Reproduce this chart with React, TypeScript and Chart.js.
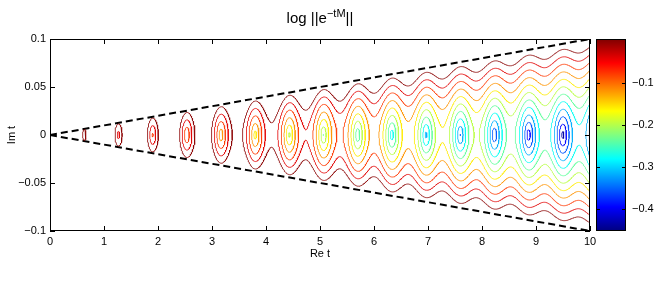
import React, { useEffect, useRef } from "react";
import { Chart, registerables } from "chart.js";
Chart.register(...registerables);

// ---- data ----
const xTicks = [0, 1, 2, 3, 4, 5, 6, 7, 8, 9, 10];
const yTicks = [-0.1, -0.05, 0, 0.05, 0.1];
const yTickLabels = ["\u22120.1", "\u22120.05", "0", "0.05", "0.1"];
const cbTicks = [-0.4, -0.3, -0.2, -0.1];
const cbTickLabels = ["\u22120.4", "\u22120.3", "\u22120.2", "\u22120.1"];
const cbRange = [-0.451, 0.003];
const levels = [-0.002, -0.041, -0.08, -0.12, -0.159, -0.198, -0.237, -0.276, -0.316, -0.355, -0.394, -0.433];
const coneX = [0, 10];
const coneUpper = [0, 0.1];
const coneLower = [0, -0.1];
// parameters of the plotted function log||e^{-tM}||, M with eigenvalues mu +/- i*omega
const MU = [0.0475];
const OMEGA = [4.963];
const ASYM = [1.2];
const gridX = [0, 10, 801];
const gridY = [-0.1, 0.1, 321];

const FONT = "'Liberation Sans', Arial, Helvetica, sans-serif";

function field(x: number, y: number): number {
  const w = OMEGA[0], a = ASYM[0];
  const cx = Math.cos(w * x), sx = Math.sin(w * x), shy = Math.sinh(w * y);
  const c2 = cx * cx + shy * shy;
  const s2 = sx * sx + shy * shy;
  const F2 = 2 * c2 + s2 * (a * a + 1 / (a * a));
  const sig2 = (F2 + Math.sqrt(Math.max(F2 * F2 - 4, 0))) / 2;
  return -MU[0] * x + 0.5 * Math.log(sig2);
}

function jet(t: number): string {
  t = Math.min(1, Math.max(0, t));
  const cl = (v: number) => Math.min(1, Math.max(0, v));
  const r = cl(1.5 - Math.abs(4 * t - 3));
  const g = cl(1.5 - Math.abs(4 * t - 2));
  const b = cl(1.5 - Math.abs(4 * t - 1));
  return `rgb(${Math.round(r * 255)},${Math.round(g * 255)},${Math.round(b * 255)})`;
}

type Pt = { x: number; y: number | null };

function contourPoints(L: number, F: Float64Array, nx: number, ny: number, xs: number[], ys: number[]): Pt[] {
  const pts = new Map<number, [number, number]>();
  const segA: number[] = [];
  const segB: number[] = [];
  const adj = new Map<number, number[]>();
  const edgePoint = (key: number): void => {
    if (pts.has(key)) return;
    const idx = key >> 1;
    const i = idx % nx, j = Math.floor(idx / nx);
    if ((key & 1) === 0) {
      const va = F[j * nx + i], vb = F[j * nx + i + 1];
      const t = (L - va) / (vb - va);
      pts.set(key, [xs[i] + t * (xs[i + 1] - xs[i]), ys[j]]);
    } else {
      const va = F[j * nx + i], vb = F[(j + 1) * nx + i];
      const t = (L - va) / (vb - va);
      pts.set(key, [xs[i], ys[j] + t * (ys[j + 1] - ys[j])]);
    }
  };
  const add = (k1: number, k2: number) => {
    edgePoint(k1); edgePoint(k2);
    const id = segA.length;
    segA.push(k1); segB.push(k2);
    if (!adj.has(k1)) adj.set(k1, []);
    if (!adj.has(k2)) adj.set(k2, []);
    adj.get(k1)!.push(id); adj.get(k2)!.push(id);
  };
  for (let j = 0; j < ny - 1; j++) {
    for (let i = 0; i < nx - 1; i++) {
      const v0 = F[j * nx + i], v1 = F[j * nx + i + 1], v2 = F[(j + 1) * nx + i + 1], v3 = F[(j + 1) * nx + i];
      if (Number.isNaN(v0) || Number.isNaN(v1) || Number.isNaN(v2) || Number.isNaN(v3)) continue;
      const code = (v0 > L ? 1 : 0) | (v1 > L ? 2 : 0) | (v2 > L ? 4 : 0) | (v3 > L ? 8 : 0);
      if (code === 0 || code === 15) continue;
      const e0 = (j * nx + i) * 2;
      const e1 = (j * nx + i + 1) * 2 + 1;
      const e2 = ((j + 1) * nx + i) * 2;
      const e3 = (j * nx + i) * 2 + 1;
      const center = (v0 + v1 + v2 + v3) / 4 > L;
      switch (code) {
        case 1: case 14: add(e3, e0); break;
        case 2: case 13: add(e0, e1); break;
        case 3: case 12: add(e3, e1); break;
        case 4: case 11: add(e1, e2); break;
        case 6: case 9: add(e0, e2); break;
        case 7: case 8: add(e3, e2); break;
        case 5:
          if (center) { add(e0, e1); add(e2, e3); } else { add(e3, e0); add(e1, e2); }
          break;
        case 10:
          if (center) { add(e3, e0); add(e1, e2); } else { add(e0, e1); add(e2, e3); }
          break;
      }
    }
  }
  const used = new Uint8Array(segA.length);
  const out: Pt[] = [];
  const walk = (startKey: number, seg: number): number[] => {
    const res: number[] = [];
    let cur = startKey;
    let s = seg;
    while (true) {
      const list = adj.get(cur) || [];
      let next = -1;
      for (const c of list) if (c !== s && !used[c]) { next = c; break; }
      if (next < 0) break;
      used[next] = 1;
      const other = segA[next] === cur ? segB[next] : segA[next];
      res.push(other);
      cur = other; s = next;
    }
    return res;
  };
  for (let s = 0; s < segA.length; s++) {
    if (used[s]) continue;
    used[s] = 1;
    const fwd = walk(segB[s], s);
    const bwd = walk(segA[s], s);
    const keys = bwd.reverse().concat([segA[s], segB[s]], fwd);
    for (const k of keys) {
      const p = pts.get(k)!;
      out.push({ x: p[0], y: p[1] });
    }
    out.push({ x: pts.get(keys[keys.length - 1])![0], y: null });
  }
  return out;
}

function buildDatasets() {
  const nx = gridX[2], ny = gridY[2];
  const xs: number[] = [], ys: number[] = [];
  for (let i = 0; i < nx; i++) xs.push(gridX[0] + (i * (gridX[1] - gridX[0])) / (nx - 1));
  for (let j = 0; j < ny; j++) ys.push(gridY[0] + (j * (gridY[1] - gridY[0])) / (ny - 1));
  const slope = coneUpper[1] / coneX[1];
  const F = new Float64Array(nx * ny);
  for (let j = 0; j < ny; j++) {
    for (let i = 0; i < nx; i++) {
      const x = xs[i], y = ys[j];
      F[j * nx + i] = Math.abs(y) > slope * x + 1e-12 ? NaN : field(x, y);
    }
  }
  const ds: any[] = levels.map((L) => ({
    data: contourPoints(L, F, nx, ny, xs, ys),
    borderColor: jet((L - cbRange[0]) / (cbRange[1] - cbRange[0])),
    borderWidth: 0.8,
    showLine: true,
    pointRadius: 0,
    spanGaps: false,
    fill: false,
  }));
  ds.push({
    data: coneX.map((x, i) => ({ x, y: coneUpper[i] })),
    borderColor: "#000", borderWidth: 2, borderDash: [7, 4], showLine: true, pointRadius: 0, fill: false,
  });
  ds.push({
    data: coneX.map((x, i) => ({ x, y: coneLower[i] })),
    borderColor: "#000", borderWidth: 2, borderDash: [7, 4], showLine: true, pointRadius: 0, fill: false,
  });
  return ds;
}

const decorPlugin = {
  id: "decor",
  afterDraw(chart: any) {
    const ctx = chart.ctx as CanvasRenderingContext2D;
    const { left, right, top, bottom } = chart.chartArea;
    const xs = chart.scales.x, ys = chart.scales.y, cb = chart.scales.cb;
    ctx.save();
    ctx.strokeStyle = "#000";
    ctx.lineWidth = 1;
    ctx.strokeRect(Math.round(left) + 0.5, Math.round(top) + 0.5, Math.round(right - left) - 1, Math.round(bottom - top) - 1);
    ctx.beginPath();
    for (const v of xTicks) {
      const px = Math.round(xs.getPixelForValue(v)) + 0.5;
      ctx.moveTo(px, bottom); ctx.lineTo(px, bottom - 5);
      ctx.moveTo(px, top); ctx.lineTo(px, top + 5);
    }
    for (const v of yTicks) {
      const py = Math.round(ys.getPixelForValue(v)) + 0.5;
      ctx.moveTo(left, py); ctx.lineTo(left + 5, py);
      ctx.moveTo(right, py); ctx.lineTo(right - 5, py);
    }
    ctx.stroke();
    // colorbar
    const cbL = 596, cbR = 626;
    const cTop = cb.getPixelForValue(cbRange[1]);
    const cBot = cb.getPixelForValue(cbRange[0]);
    const grad = ctx.createLinearGradient(0, cBot, 0, cTop);
    for (let k = 0; k <= 32; k++) grad.addColorStop(k / 32, jet(k / 32));
    ctx.fillStyle = grad;
    ctx.fillRect(cbL, cTop, cbR - cbL, cBot - cTop);
    ctx.strokeRect(cbL + 0.5, Math.round(cTop) + 0.5, cbR - cbL - 1, Math.round(cBot - cTop) - 1);
    ctx.beginPath();
    for (const v of cbTicks) {
      const py = Math.round(cb.getPixelForValue(v)) + 0.5;
      ctx.moveTo(cbR, py); ctx.lineTo(cbR - 4, py);
      ctx.moveTo(cbL, py); ctx.lineTo(cbL + 4, py);
    }
    ctx.stroke();
    // title
    ctx.fillStyle = "#000";
    ctx.textBaseline = "alphabetic";
    const big = `15px ${FONT}`, small = `11px ${FONT}`;
    const p1 = "log ||e", p2 = "\u2212tM", p3 = "||";
    ctx.font = big; const w1 = ctx.measureText(p1).width; const w3 = ctx.measureText(p3).width;
    ctx.font = small; const w2 = ctx.measureText(p2).width;
    const tw = w1 + w2 + w3;
    let tx = (left + right) / 2 - tw / 2;
    const ty = 23;
    ctx.textAlign = "left";
    ctx.font = big; ctx.fillText(p1, tx, ty); tx += w1;
    ctx.font = small; ctx.fillText(p2, tx, ty - 6); tx += w2;
    ctx.font = big; ctx.fillText(p3, tx, ty);
    ctx.font = `11px ${FONT}`;
    ctx.textAlign = "center";
    ctx.textBaseline = "middle";
    ctx.fillText("Re t", (left + right) / 2, 254);
    ctx.translate(12, (top + bottom) / 2);
    ctx.rotate(-Math.PI / 2);
    ctx.fillText("Im t", 0, 0);
    ctx.restore();
  },
};

export default function App() {
  const ref = useRef<HTMLCanvasElement>(null);
  useEffect(() => {
    if (!ref.current) return;
    const tickFont = { family: FONT, size: 11 };
    const chart = new Chart(ref.current, {
      type: "scatter",
      data: { datasets: buildDatasets() },
      plugins: [decorPlugin],
      options: {
        animation: false,
        responsive: false,
        maintainAspectRatio: false,
        events: [],
        layout: { padding: { left: 0, right: 0, top: 39, bottom: 0 } },
        plugins: { legend: { display: false }, tooltip: { enabled: false }, title: { display: false } },
        elements: { point: { radius: 0 }, line: { tension: 0 } },
        scales: {
          x: {
            type: "linear", position: "bottom", min: 0, max: 10,
            afterFit: (s: any) => { s.height = 51; },
            afterBuildTicks: (s: any) => { s.ticks = xTicks.map((v) => ({ value: v })); },
            grid: { display: false, drawTicks: false },
            border: { display: false },
            ticks: { padding: 4, color: "#000", font: tickFont, maxRotation: 0, autoSkip: false, callback: (v: any) => String(v) },
          },
          y: {
            type: "linear", position: "left", min: -0.1, max: 0.1,
            afterFit: (s: any) => { s.width = 50; },
            afterBuildTicks: (s: any) => { s.ticks = yTicks.map((v) => ({ value: v })); },
            grid: { display: false, drawTicks: false },
            border: { display: false },
            ticks: { padding: 4, color: "#000", font: tickFont, autoSkip: false, callback: (_v: any, i: number) => yTickLabels[i] },
          },
          cb: {
            type: "linear", position: "right", min: cbRange[0], max: cbRange[1], display: true,
            afterFit: (s: any) => { s.width = 74; },
            afterBuildTicks: (s: any) => { s.ticks = cbTicks.map((v) => ({ value: v })); },
            grid: { display: false, drawTicks: true, tickLength: 38 },
            border: { display: false },
            ticks: { padding: 4, color: "#000", font: tickFont, autoSkip: false, callback: (_v: any, i: number) => cbTickLabels[i] },
          },
        } as any,
      },
    } as any);
    return () => chart.destroy();
  }, []);
  return (
    <div style={{ position: "absolute", left: 0, top: 0, width: 664, height: 282, background: "#fff" }}>
      <canvas ref={ref} width={664} height={282} />
    </div>
  );
}
